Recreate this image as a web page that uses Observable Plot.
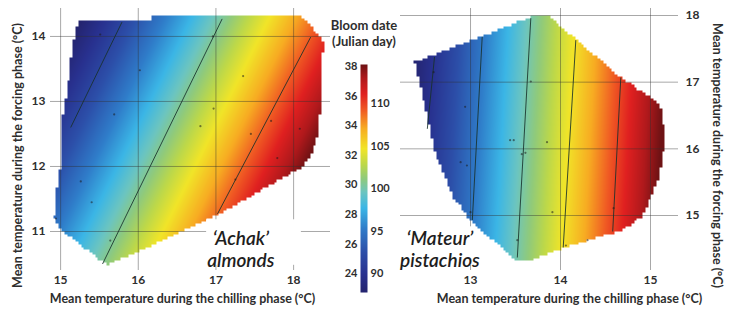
<!DOCTYPE html>
<html><head><meta charset="utf-8">
<script src="https://cdn.jsdelivr.net/npm/d3@7"></script>
<script src="https://cdn.jsdelivr.net/npm/@observablehq/plot@0.6"></script>
<style>
body{margin:0;background:#fff;}
#chart{position:relative;width:731px;height:324px;overflow:hidden;background:#fff;}
#chart svg{position:absolute;top:0;}
</style></head><body><div id="chart"></div>
<script>
// ---------- data ----------
// 'Achak' almonds (left panel)
const almondXTicks = [15, 16, 17, 18];
const almondYTicks = [11, 12, 13, 14];
const almondXDomain = [14.87, 18.475];
const almondYDomain = [10.4, 14.43];
const almondHull = [[15.24,14.24],[16.18,14.24],[16.18,14.31],[18.10,14.31],[18.25,14.13],[18.38,13.92],[18.37,13.2],[18.32,12.5],[18.22,12.15],[18.12,12.0],[17.02,11.25],[15.6,10.48],[14.98,11.05],[14.92,11.2],[14.95,11.6],[15.0,12.0],[15.03,12.8],[15.1,13.3],[15.15,13.8],[15.22,14.24]];
const almondContourLevel = [25, 30, 35];
const almondContourFrom = [[15.79,14.22],[17.08,14.27],[18.22,13.99]];
const almondContourTo = [[15.13,12.6],[15.54,10.5],[17.02,11.27]];
const almondDots = [[15.51,14.03],[16.02,13.48],[15.69,12.80],[16.96,14.00],[17.35,13.39],[16.97,12.89],[16.80,12.62],[17.45,12.50],[17.71,12.70],[18.08,12.58],[15.26,11.77],[15.40,11.45],[15.64,10.86],[14.94,11.20],[17.25,11.80],[17.79,12.13]];
const almondLabel = ["\u2018Achak\u2019", "almonds"];
const almondLabelAt = [17.32, 10.73];
const almondLabelBox = [16.88, 18.1, 10.48, 11.18];
const almondColorDomain = [22.72, 38.14];
const almondLegendTicks = [24, 26, 28, 30, 32, 34, 36, 38];

// 'Mateur' pistachios (right panel)
const pistachioXTicks = [13, 14, 15];
const pistachioYTicks = [15, 16, 17, 18];
const pistachioXDomain = [12.222, 15.311];
const pistachioYDomain = [14.175, 18.105];
const pistachioHull = [[13.72,18.0],[13.86,18.0],[14.67,17.07],[15.07,16.72],[15.14,16.55],[15.15,16.0],[15.1,15.6],[14.92,15.0],[14.7,14.78],[14.3,14.63],[14.07,14.53],[13.62,14.3],[13.5,14.32],[13.0,14.93],[12.82,15.25],[12.6,15.95],[12.5,16.6],[12.38,17.3]];
const pistachioContourLevel = [90, 95, 100, 105, 110];
const pistachioContourFrom = [[12.60,17.38],[13.13,17.68],[13.67,17.96],[14.17,17.63],[14.67,17.07]];
const pistachioContourTo = [[12.52,16.30],[13.02,14.93],[13.52,14.37],[14.03,14.52],[14.58,14.76]];
const pistachioDots = [[12.59,17.15],[12.94,16.63],[13.67,17.01],[13.44,16.13],[13.48,16.13],[13.85,16.10],[13.57,15.92],[13.61,15.94],[12.89,15.80],[12.96,15.75],[13.91,15.05],[14.30,14.63],[13.00,15.05],[14.59,15.11],[13.52,14.63],[14.06,14.55]];
const pistachioLabel = ["\u2018Mateur\u2019", "pistachios"];
const pistachioLabelAt = [12.66, 14.5];
const pistachioLabelBox = [12.3, 13.06, 14.25, 14.83];
const pistachioColorDomain = [87.8, 114.6];
const pistachioLegendTicks = [90, 95, 100, 105, 110];

const xTitle = "Mean temperature during the chilling phase (\u00b0C)";
const yTitle = "Mean temperature during the forcing phase (\u00b0C)";
const legendTitle = ["Bloom date", "(Julian day)"];

// jet-like palette as seen in the figure
const jetStops = [0,0.08,0.18,0.28,0.37,0.44,0.5,0.56,0.63,0.72,0.8,0.87,0.94,1];
const jetColors = ["#24246e","#28318f","#2c4fa9","#2f7cc9","#3bb6e6","#6cc5c0","#8fca7c","#bcd84a","#f1e528","#f7ac22","#f05a23","#e02020","#b0191c","#6e1214"];

// ---------- helpers ----------
const jetScale = d3.scaleLinear().domain(jetStops).range(jetColors).interpolate(d3.interpolateRgb).clamp(true);
const jet = t => jetScale(t);

// plane fitted through the contour lines
function fitPlane(levels, from, to) {
  const P = [];
  levels.forEach((v, i) => { P.push([from[i][0], from[i][1], v]); P.push([to[i][0], to[i][1], v]); });
  const M = [[0,0,0],[0,0,0],[0,0,0]], B = [0,0,0];
  for (const [x, y, v] of P) {
    const r = [1, x, y];
    for (let i = 0; i < 3; i++) { B[i] += r[i] * v; for (let j = 0; j < 3; j++) M[i][j] += r[i] * r[j]; }
  }
  const det = m => m[0][0]*(m[1][1]*m[2][2]-m[1][2]*m[2][1]) - m[0][1]*(m[1][0]*m[2][2]-m[1][2]*m[2][0]) + m[0][2]*(m[1][0]*m[2][1]-m[1][1]*m[2][0]);
  const D = det(M);
  return [0,1,2].map(k => det(M.map((row, i) => row.map((c, j) => j === k ? B[i] : c))) / D);
}

const font = "Lato, 'Open Sans', sans-serif";
const baseStyle = {fontFamily: font, fontSize: "12px", fontWeight: "bold", color: "#2e2e2e", background: "transparent", overflow: "visible"};

function panel(o) {
  const c = fitPlane(o.levels, o.from, o.to);
  const cellX = o.cell[0], cellY = o.cell[1];
  const segs = o.levels.map((v, i) => ({level: v, a: o.from[i], b: o.to[i]}));
  const inside = (x, y) => d3.polygonContains(o.hull, [(Math.floor(x / cellX) + 0.5) * cellX, (Math.floor(y / cellY) + 0.5) * cellY]);
  const side = o.yAnchor;
  return Plot.plot({
    width: o.width, height: 324,
    marginLeft: o.marginLeft, marginRight: o.marginRight, marginTop: 8, marginBottom: 54,
    style: baseStyle,
    x: {domain: o.xDomain},
    y: {domain: o.yDomain},
    color: {type: "linear", domain: o.colorDomain, interpolate: jet, clamp: true},
    marks: [
      Plot.raster({
        x1: o.xDomain[0], x2: o.xDomain[1], y1: o.yDomain[0], y2: o.yDomain[1],
        fill: (x, y) => inside(x, y) ? c[0] + c[1] * x + c[2] * y : NaN
      }),
      Plot.gridX(o.xTicks, {stroke: "#303030", strokeOpacity: 0.42}),
      Plot.gridY(o.yTicks, {stroke: "#303030", strokeOpacity: 0.42}),
      Plot.rect([o.box], {x1: d => d[0], x2: d => d[1], y1: d => d[2], y2: d => d[3], fill: "white"}),
      Plot.link(segs, {x1: d => d.a[0], y1: d => d.a[1], x2: d => d.b[0], y2: d => d.b[1], stroke: "#17302a", strokeWidth: 1, strokeOpacity: 0.85}),
      Plot.dot(o.dots, {x: d => d[0], y: d => d[1], r: 1.1, fill: "#1c1c1c", fillOpacity: 0.55}),
      Plot.text([o.label.join("\n")], {x: o.labelAt[0], y: o.labelAt[1], fontSize: 19, fontStyle: "italic", fontWeight: 600, fill: "#1e1e1e", lineHeight: 1.15, fontFamily: font}),
      Plot.axisX(o.xTicks, {anchor: "bottom", tickSize: 0, tickPadding: 5, label: null, fontSize: 12, tickFormat: d => String(d)}),
      Plot.axisY(o.yTicks, {anchor: side, tickSize: 0, tickPadding: side === "left" ? 5 : 7, label: null, fontSize: 12, tickFormat: d => String(d)}),
      Plot.text([xTitle], {frameAnchor: "bottom", textAnchor: "middle", dy: 32, dx: o.xTitleDx, fontSize: 12.5}),
      Plot.text([yTitle], {frameAnchor: side, textAnchor: "middle", rotate: side === "left" ? -90 : 90, dx: o.yTitleDx, dy: 16, fontSize: 12.5})
    ]
  });
}

const root = document.getElementById("chart");

const left = panel({
  width: 340, marginLeft: 50, marginRight: 10,
  xDomain: almondXDomain, yDomain: almondYDomain, xTicks: almondXTicks, yTicks: almondYTicks, yAnchor: "left",
  hull: almondHull, levels: almondContourLevel, from: almondContourFrom, to: almondContourTo, dots: almondDots,
  label: almondLabel, labelAt: almondLabelAt, box: almondLabelBox, colorDomain: almondColorDomain,
  cell: [0.036, 0.04], xTitleDx: -8, yTitleDx: -33
});
left.style.left = "0px";
root.appendChild(left);

const right = panel({
  width: 341, marginLeft: 10, marginRight: 53,
  xDomain: pistachioXDomain, yDomain: pistachioYDomain, xTicks: pistachioXTicks, yTicks: pistachioYTicks, yAnchor: "right",
  hull: pistachioHull, levels: pistachioContourLevel, from: pistachioContourFrom, to: pistachioContourTo, dots: pistachioDots,
  label: pistachioLabel, labelAt: pistachioLabelAt, box: pistachioLabelBox, colorDomain: pistachioColorDomain,
  cell: [0.031, 0.04], xTitleDx: 30, yTitleDx: 38
});
right.style.left = "390px";
root.appendChild(right);

// colour bar with two value axes
const barLeft = Plot.plot({
  width: 60, height: 324, marginLeft: 30, marginRight: 23, marginTop: 64, marginBottom: 32,
  style: {...baseStyle, fontSize: "11px"},
  x: {domain: [0, 1], axis: null},
  y: {domain: almondColorDomain},
  color: {type: "linear", domain: almondColorDomain, interpolate: jet, clamp: true},
  marks: [
    Plot.raster({x1: 0, x2: 1, y1: almondColorDomain[0], y2: almondColorDomain[1], fill: (x, y) => y}),
    Plot.axisY(almondLegendTicks, {anchor: "left", tickSize: 0, tickPadding: 3, label: null}),
    Plot.text([legendTitle[0]], {frameAnchor: "top", textAnchor: "middle", dy: -44, fontSize: 13}),
    Plot.text([legendTitle[1]], {frameAnchor: "top", textAnchor: "middle", dy: -28, fontSize: 13})
  ]
});
barLeft.style.left = "330px";
root.appendChild(barLeft);

const barRight = Plot.plot({
  width: 60, height: 324, marginLeft: 30, marginRight: 23, marginTop: 64, marginBottom: 32,
  style: {...baseStyle, fontSize: "11px"},
  x: {domain: [0, 1], axis: null},
  y: {domain: pistachioColorDomain},
  marks: [
    Plot.axisY(pistachioLegendTicks, {anchor: "right", tickSize: 0, tickPadding: 3, label: null})
  ]
});
barRight.style.left = "330px";
root.appendChild(barRight);
</script>
</body></html>
